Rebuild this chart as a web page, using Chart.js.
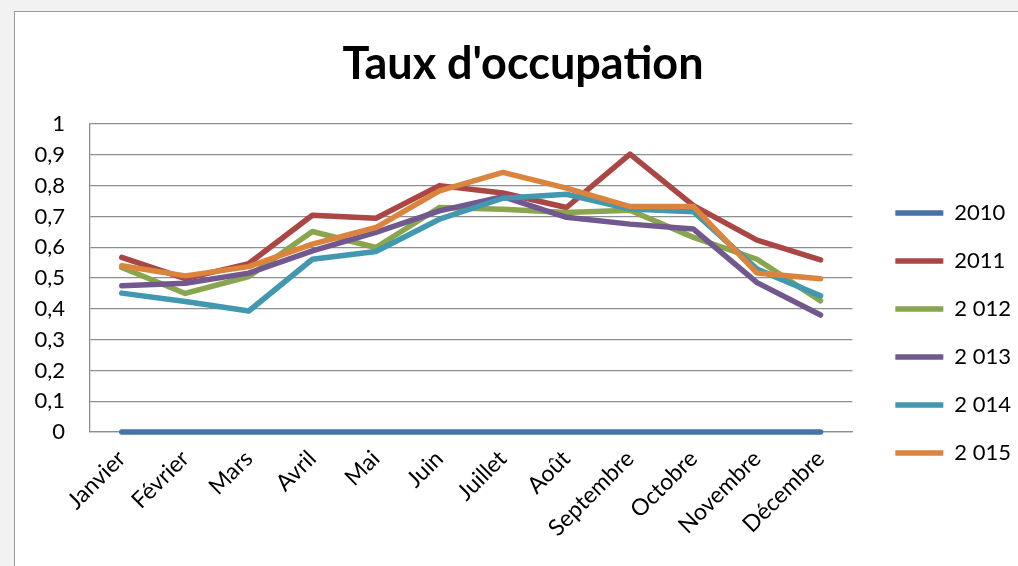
<!DOCTYPE html>
<html>
<head>
<meta charset="utf-8">
<script src="https://cdn.jsdelivr.net/npm/chart.js@4.4.1/dist/chart.umd.min.js"></script>
<style>
  html, body { margin: 0; padding: 0; overflow: hidden; background: #f2f2f2; }
  #frame { position: absolute; left: 14px; top: 11px; width: 1023px; height: 560px; background: #fff; border: 1px solid #9a9a9a; }
</style>
</head>
<body>
<div id="frame"><canvas id="occupationChart"></canvas></div>
<script>
Chart.defaults.font.family = "'Lato', sans-serif";
Chart.defaults.color = '#000';

// Months (x categories)
const months = ['Janvier', 'Février', 'Mars', 'Avril', 'Mai', 'Juin', 'Juillet', 'Août', 'Septembre', 'Octobre', 'Novembre', 'Décembre'];

// Y tick labels, French decimal comma
const yTickLabels = ['0', '0,1', '0,2', '0,3', '0,4', '0,5', '0,6', '0,7', '0,8', '0,9', '1'];

// Series names as shown in the legend
const seriesNames = ['2010', '2011', '2 012', '2 013', '2 014', '2 015'];

// Occupation rate per month
const rate2010 = [0, 0, 0, 0, 0, 0, 0, 0, 0, 0, 0, 0];
const rate2011 = [0.567, 0.498, 0.547, 0.704, 0.694, 0.80, 0.776, 0.729, 0.902, 0.735, 0.623, 0.559];
const rate2012 = [0.534, 0.45, 0.505, 0.651, 0.599, 0.729, 0.723, 0.713, 0.72, 0.632, 0.561, 0.426];
const rate2013 = [0.475, 0.483, 0.516, 0.588, 0.648, 0.718, 0.764, 0.697, 0.675, 0.659, 0.485, 0.38];
const rate2014 = [0.451, 0.424, 0.393, 0.561, 0.586, 0.691, 0.759, 0.772, 0.724, 0.715, 0.529, 0.442];
const rate2015 = [0.54, 0.507, 0.537, 0.61, 0.664, 0.783, 0.843, 0.792, 0.732, 0.732, 0.516, 0.498];

const seriesValues = [rate2010, rate2011, rate2012, rate2013, rate2014, rate2015];

const palette = ['#4572A7', '#AA4643', '#89A54E', '#71588F', '#4198AF', '#DB843D'];
const gridGray = '#8e8e8e';

const datasets = seriesValues.map((values, i) => ({
  label: seriesNames[i],
  data: values,
  borderColor: palette[i],
  backgroundColor: palette[i],
  borderWidth: 5.5,
  borderCapStyle: 'round',
  borderJoinStyle: 'round',
  pointRadius: 0,
  tension: 0,
  fill: false,
  clip: 6, // let the zero line show its full width over the axis
  order: seriesValues.length - i, // later years drawn on top, like Excel
}));

new Chart(document.getElementById('occupationChart'), {
  type: 'line',
  data: { labels: months, datasets: datasets },
  options: {
    responsive: true,
    maintainAspectRatio: false,
    animation: false,
    layout: { padding: { left: 10, right: 17, top: 0, bottom: 17 } },
    plugins: {
      tooltip: { enabled: false },
      title: {
        display: true,
        text: "Taux d'occupation",
        font: { size: 45, weight: 'bold' },
        padding: { top: 25, bottom: 33 },
      },
      legend: {
        position: 'right',
        align: 'start',
        // empty title only used as a spacer above the items
        title: { display: true, text: '', font: { size: 10, lineHeight: 1 }, padding: { top: 137, bottom: 0 } },
        labels: {
          usePointStyle: true,
          pointStyle: 'line',
          pointStyleWidth: 48,
          padding: 43,
          font: { size: 22, lineHeight: '5px' },
          sort: (a, b) => a.datasetIndex - b.datasetIndex,
          generateLabels: (chart) =>
            Chart.defaults.plugins.legend.labels.generateLabels(chart).map((item) => ({ ...item, text: [item.text] })),
        },
      },
    },
    scales: {
      x: {
        offset: true,
        grid: { display: false, drawTicks: false },
        border: { color: gridGray, width: 1.3 },
        ticks: { autoSkip: false, minRotation: 45, maxRotation: 45, padding: 13, font: { size: 23 } },
      },
      y: {
        min: 0,
        max: 1,
        afterFit: (scale) => { scale.width = 65; },
        grid: { color: gridGray, lineWidth: 1.3, drawTicks: false },
        border: { color: gridGray, width: 1.3 },
        ticks: {
          stepSize: 0.1,
          padding: 25,
          font: { size: 22 },
          callback: (value, index) => yTickLabels[index],
        },
      },
    },
  },
});
</script>
</body>
</html>
